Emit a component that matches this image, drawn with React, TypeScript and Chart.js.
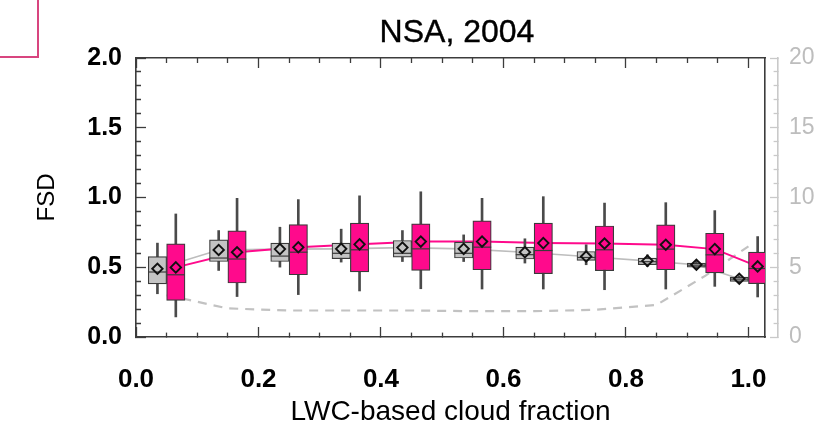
import { useEffect, useRef } from 'react';
import { Chart, registerables } from 'chart.js';

Chart.register(...registerables);

// Cloud-fraction bins (centres); each bin holds a gray/pink pair of boxes.
const binCenters = [0.05, 0.15, 0.25, 0.35, 0.45, 0.55, 0.65, 0.75, 0.85, 0.93, 1.0];
const BOX_WIDTH = 0.03; // width of one box in cloud-fraction units

// Gray boxes (FSD statistics)
const grayWhiskerLow = [0.31, 0.477, 0.501, 0.537, 0.541, 0.541, 0.53, 0.518, 0.506, 0.487, 0.387];
const grayQ1 = [0.38, 0.541, 0.541, 0.561, 0.573, 0.566, 0.559, 0.549, 0.518, 0.501, 0.399];
const grayMedian = [0.466, 0.566, 0.58, 0.6, 0.6, 0.6, 0.59, 0.57, 0.54, 0.515, 0.415];
const grayQ3 = [0.577, 0.696, 0.673, 0.673, 0.692, 0.68, 0.644, 0.613, 0.566, 0.53, 0.43];
const grayWhiskerHigh = [0.673, 0.763, 0.787, 0.773, 0.763, 0.732, 0.704, 0.661, 0.589, 0.549, 0.439];
const grayMean = [0.489, 0.624, 0.63, 0.632, 0.641, 0.632, 0.608, 0.577, 0.546, 0.518, 0.418];

// Pink boxes (FSD statistics)
const pinkWhiskerLow = [0.144, 0.29, 0.304, 0.33, 0.346, 0.344, 0.344, 0.339, 0.344, 0.363, 0.287];
const pinkQ1 = [0.263, 0.387, 0.446, 0.466, 0.477, 0.482, 0.454, 0.475, 0.482, 0.459, 0.382];
const pinkMedian = [0.446, 0.559, 0.608, 0.625, 0.632, 0.644, 0.62, 0.625, 0.63, 0.589, 0.491];
const pinkQ3 = [0.668, 0.761, 0.806, 0.816, 0.811, 0.832, 0.816, 0.796, 0.804, 0.744, 0.608];
const pinkWhiskerHigh = [0.882, 0.994, 0.985, 1.012, 1.041, 0.994, 1.006, 0.96, 0.963, 0.906, 0.72];
const pinkMean = [0.499, 0.608, 0.643, 0.664, 0.684, 0.684, 0.673, 0.67, 0.661, 0.63, 0.506];

// Dashed curve on the right-hand axis
const sampleCounts = [3.0, 2.05, 1.9, 1.9, 1.9, 1.85, 1.85, 1.95, 2.3, 4.4, 6.5];

// Labelled ticks
const xLabelTicks = [0, 0.2, 0.4, 0.6, 0.8, 1.0];
const fsdLabelTicks = [0, 0.5, 1.0, 1.5, 2.0];
const countLabelTicks = [0, 5, 10, 15, 20];

const X_MAX = 1.027;
const PINK = '#ff0a8c';
const GRAY_FILL = '#c4c4c4';
const OUTLINE = '#3a3a3a';
const WHISKER = '#4a4a4a';
const AXIS_DARK = '#3c3c3c';
const AXIS_LIGHT = '#c9c9c9';
const FONT = '"Liberation Sans", Arial, Helvetica, sans-serif';

const grayX = binCenters.map((c) => c - BOX_WIDTH / 2);
const pinkX = binCenters.map((c) => c + BOX_WIDTH / 2);

const isIn = (list: number[], v: number) => list.some((t) => Math.abs(t - v) < 1e-6);

// Inward tick marks: long for labelled ticks, short otherwise.
// startsAtBorder tells which end of the tick segment the dash pattern starts from.
const tickDash = (major: number[], len: number, minor: number, startsAtBorder: boolean) => (ctx: any) => {
  const v = ctx.tick ? ctx.tick.value : undefined;
  if (v === undefined || isIn(major, v)) return [];
  return startsAtBorder ? [minor, 100] : [0, len - minor, minor, 100];
};

const boxPixelWidth = (ctx: any) => {
  const s = ctx.chart.scales.x;
  return Math.abs(s.getPixelForValue(BOX_WIDTH) - s.getPixelForValue(0));
};

function boxDatasets(xs: number[], lo: number[], q1: number[], med: number[], q3: number[], hi: number[], mean: number[], fill: string) {
  return [
    {
      type: 'bar',
      data: xs.map((x, i) => ({ x, y: [lo[i], hi[i]] })),
      backgroundColor: WHISKER,
      borderWidth: 0,
      barThickness: 2,
      grouped: false,
      order: 5,
    },
    {
      type: 'bar',
      data: xs.map((x, i) => ({ x, y: [q1[i], q3[i]] })),
      backgroundColor: fill,
      borderColor: OUTLINE,
      borderWidth: 1.2,
      borderSkipped: false,
      barThickness: boxPixelWidth,
      grouped: false,
      order: 4,
    },
    {
      type: 'line',
      data: xs.map((x, i) => ({ x, y: med[i] })),
      showLine: false,
      pointStyle: 'line',
      pointRadius: (ctx: any) => boxPixelWidth(ctx) / 2,
      pointBorderColor: OUTLINE,
      pointBorderWidth: 1.2,
      order: 3,
    },
    {
      type: 'line',
      data: xs.map((x, i) => ({ x, y: mean[i] })),
      showLine: false,
      pointStyle: 'rectRot',
      pointRadius: 5.2,
      pointBackgroundColor: 'rgba(0,0,0,0)',
      pointBorderColor: '#111',
      pointBorderWidth: 1.9,
      order: 2,
    },
  ];
}

export default function App() {
  const canvasRef = useRef<HTMLCanvasElement>(null);

  useEffect(() => {
    const canvas = canvasRef.current;
    if (!canvas) return;

    const datasets: any[] = [
      {
        type: 'line',
        data: binCenters.map((x, i) => ({ x, y: sampleCounts[i] })),
        yAxisID: 'yN',
        borderColor: '#c2c2c2',
        borderWidth: 2.2,
        borderDash: [9, 7],
        pointRadius: 0,
        fill: false,
        order: 12,
      },
      {
        type: 'line',
        data: grayX.map((x, i) => ({ x, y: grayMean[i] })),
        borderColor: '#bdbdbd',
        borderWidth: 1.6,
        pointRadius: 0,
        fill: false,
        order: 11,
      },
      {
        type: 'line',
        data: pinkX.map((x, i) => ({ x, y: pinkMean[i] })),
        borderColor: PINK,
        borderWidth: 2,
        pointRadius: 0,
        fill: false,
        order: 10,
      },
      ...boxDatasets(grayX, grayWhiskerLow, grayQ1, grayMedian, grayQ3, grayWhiskerHigh, grayMean, GRAY_FILL),
      ...boxDatasets(pinkX, pinkWhiskerLow, pinkQ1, pinkMedian, pinkQ3, pinkWhiskerHigh, pinkMean, PINK),
    ];

    const chart = new Chart(canvas, {
      type: 'scatter',
      data: { datasets },
      options: {
        animation: false,
        responsive: false,
        devicePixelRatio: 1,
        events: [],
        layout: { padding: 0 },
        plugins: { legend: { display: false }, tooltip: { enabled: false }, title: { display: false } },
        scales: {
          x: {
            type: 'linear',
            position: 'bottom',
            min: 0,
            max: X_MAX,
            offset: false,
            afterFit: (s: any) => { s.height = 96; },
            border: { display: true, color: AXIS_DARK, width: 1.6 },
            grid: {
              offset: false,
              drawOnChartArea: false,
              drawTicks: true,
              tickLength: -10,
              tickColor: AXIS_DARK,
              tickWidth: 1.3,
              tickBorderDash: tickDash(xLabelTicks, 10, 5, true),
            },
            ticks: {
              stepSize: 0.05,
              includeBounds: false,
              autoSkip: false,
              maxRotation: 0,
              minRotation: 0,
              padding: 37,
              color: '#000',
              font: { family: FONT, size: 26, weight: 'bold' },
              callback: (v: any) => (isIn(xLabelTicks, Number(v)) ? Number(v).toFixed(1) : ''),
            },
            title: {
              display: true,
              text: 'LWC-based cloud fraction',
              color: '#000',
              font: { family: FONT, size: 28 },
              padding: { top: 0, bottom: 4 },
            },
          },
          x2: {
            type: 'linear',
            position: 'top',
            min: 0,
            max: X_MAX,
            offset: false,
            afterFit: (s: any) => { s.height = 58; },
            border: { display: true, color: AXIS_DARK, width: 1.6 },
            grid: {
              offset: false,
              drawOnChartArea: false,
              drawTicks: true,
              tickLength: -10,
              tickColor: AXIS_DARK,
              tickWidth: 1.3,
              tickBorderDash: tickDash(xLabelTicks, 10, 5, false),
            },
            ticks: { display: false, stepSize: 0.05, includeBounds: false, autoSkip: false },
          },
          y: {
            type: 'linear',
            position: 'left',
            min: 0,
            max: 2,
            afterFit: (s: any) => { s.width = 136; },
            border: { display: true, color: AXIS_DARK, width: 1.6 },
            grid: {
              drawOnChartArea: false,
              drawTicks: true,
              tickLength: -10,
              tickColor: AXIS_DARK,
              tickWidth: 1.3,
              tickBorderDash: tickDash(fsdLabelTicks, 10, 5, false),
            },
            ticks: {
              stepSize: 0.1,
              includeBounds: false,
              autoSkip: false,
              padding: 24,
              color: '#000',
              font: { family: FONT, size: 25, weight: 'bold' },
              callback: (v: any) => (isIn(fsdLabelTicks, Number(v)) ? Number(v).toFixed(1) : ''),
            },
            title: {
              display: true,
              text: 'FSD',
              color: '#000',
              font: { family: FONT, size: 24 },
              padding: { top: 33, bottom: 0 },
            },
          },
          yBox: {
            type: 'linear',
            position: 'right',
            weight: 0,
            min: 0,
            max: 2,
            afterFit: (s: any) => { s.width = 13; },
            border: { display: true, color: AXIS_DARK, width: 1.6 },
            grid: { drawOnChartArea: false, drawTicks: false },
            ticks: { display: false },
          },
          yN: {
            type: 'linear',
            position: 'right',
            weight: 1,
            min: 0,
            max: 20,
            afterFit: (s: any) => { s.width = 46; },
            border: { display: true, color: AXIS_LIGHT, width: 1.6 },
            grid: {
              drawOnChartArea: false,
              drawTicks: true,
              tickLength: -8,
              tickColor: AXIS_LIGHT,
              tickWidth: 1.3,
              tickBorderDash: tickDash(countLabelTicks, 8, 5, true),
            },
            ticks: {
              stepSize: 1,
              includeBounds: false,
              autoSkip: false,
              padding: 19,
              color: '#bdbdbd',
              font: { family: FONT, size: 23 },
              callback: (v: any) => (isIn(countLabelTicks, Number(v)) ? String(Number(v)) : ''),
            },
          },
        },
      } as any,
    });

    return () => chart.destroy();
  }, []);

  return (
    <div style={{ position: 'fixed', left: 0, top: 0, width: 824, height: 433, background: '#fff', overflow: 'hidden' }}>
      <canvas ref={canvasRef} width={824} height={433} style={{ display: 'block', width: 824, height: 433 }} />
      <div
        style={{
          position: 'absolute',
          left: -3,
          top: -3,
          width: 42,
          height: 61,
          border: '2px solid #d8457f',
          boxSizing: 'border-box',
        }}
      />
      <div
        style={{
          position: 'absolute',
          left: 457,
          top: 31,
          transform: 'translate(-50%, -50%)',
          fontFamily: FONT,
          fontSize: 32,
          lineHeight: 1,
          whiteSpace: 'nowrap',
          color: '#000',
          WebkitTextStroke: '0.4px #000',
        }}
      >
        NSA, 2004
      </div>
    </div>
  );
}
